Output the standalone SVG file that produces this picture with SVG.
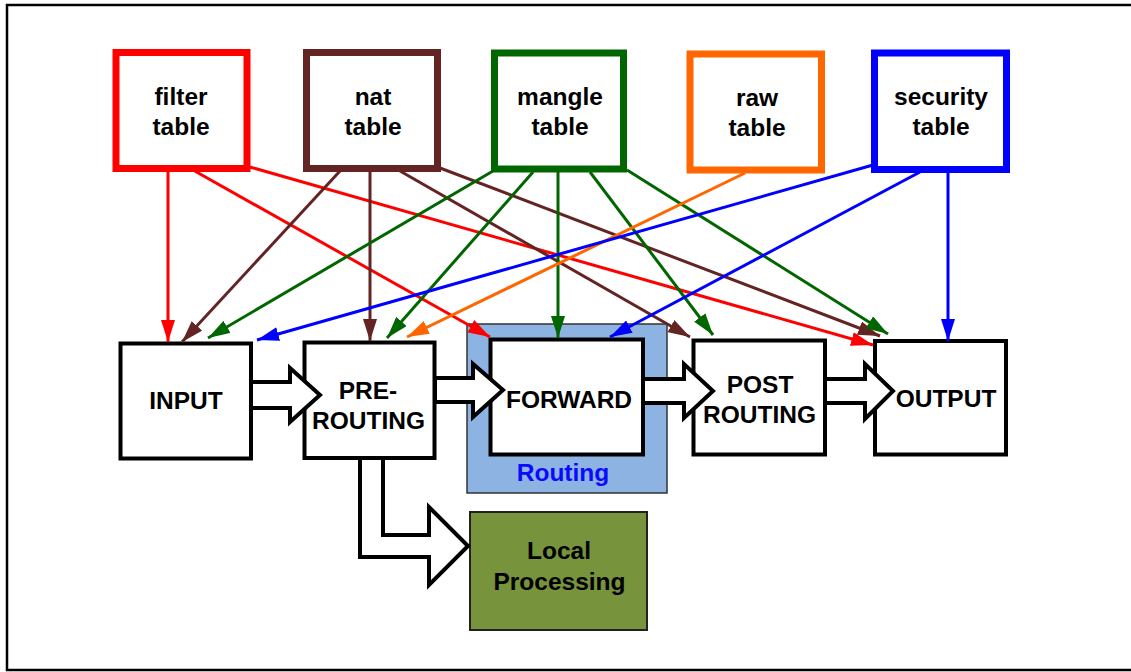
<svg xmlns="http://www.w3.org/2000/svg" width="1131" height="672" viewBox="0 0 1131 672">
<style>
.lbl{font-family:"Liberation Sans",Arial,Helvetica,sans-serif;font-weight:bold;font-size:24.5px;text-anchor:middle;fill:#000}
.tbl{fill:#fff;stroke-width:7}
.box{fill:#fff;stroke:#000;stroke-width:4}
.blk{fill:#fff;stroke:#000;stroke-width:4;stroke-linejoin:miter}
.c{fill:none;stroke-width:3}
</style>
<defs>
<marker id="ah-red" markerUnits="userSpaceOnUse" markerWidth="22" markerHeight="14" refX="22" refY="7" orient="auto"><path d="M0,0 L22,7 L0,14 z" fill="#ff0000"/></marker>
<marker id="ah-brown" markerUnits="userSpaceOnUse" markerWidth="22" markerHeight="14" refX="22" refY="7" orient="auto"><path d="M0,0 L22,7 L0,14 z" fill="#632423"/></marker>
<marker id="ah-green" markerUnits="userSpaceOnUse" markerWidth="22" markerHeight="14" refX="22" refY="7" orient="auto"><path d="M0,0 L22,7 L0,14 z" fill="#006600"/></marker>
<marker id="ah-orange" markerUnits="userSpaceOnUse" markerWidth="22" markerHeight="14" refX="22" refY="7" orient="auto"><path d="M0,0 L22,7 L0,14 z" fill="#ff6600"/></marker>
<marker id="ah-blue" markerUnits="userSpaceOnUse" markerWidth="22" markerHeight="14" refX="22" refY="7" orient="auto"><path d="M0,0 L22,7 L0,14 z" fill="#0000ff"/></marker>
</defs>
<rect x="0" y="0" width="1131" height="672" fill="#fff"/>
<rect x="7" y="5" width="1135" height="665" fill="none" stroke="#000" stroke-width="2.5"/>

<g id="filter-table">
<rect class="tbl" x="116" y="52.5" width="131" height="116" stroke="#ff0000"/>
<text class="lbl" x="181" y="105">filter</text>
<text class="lbl" x="181" y="135">table</text>
</g>
<g id="nat-table">
<rect class="tbl" x="306.5" y="52.5" width="131" height="116" stroke="#632423"/>
<text class="lbl" x="373" y="105">nat</text>
<text class="lbl" x="373" y="135">table</text>
</g>
<g id="mangle-table">
<rect class="tbl" x="494.5" y="53" width="129" height="116" stroke="#006600"/>
<text class="lbl" x="560" y="105">mangle</text>
<text class="lbl" x="560" y="135">table</text>
</g>
<g id="raw-table">
<rect class="tbl" x="690" y="54" width="131.5" height="116" stroke="#ff6600"/>
<text class="lbl" x="757" y="106">raw</text>
<text class="lbl" x="757" y="136">table</text>
</g>
<g id="security-table">
<rect class="tbl" x="874.5" y="53" width="132" height="116.5" stroke="#0000ff"/>
<text class="lbl" x="941" y="105">security</text>
<text class="lbl" x="941" y="135">table</text>
</g>

<g id="routing">
<rect x="467" y="324" width="200" height="169" fill="#8db3e2" stroke="#333" stroke-width="1.5"/>
<text class="lbl" x="563" y="481" fill="#0000ff" style="fill:#0a0aff">Routing</text>
</g>
<g id="input">
<rect class="box" x="120.5" y="343.5" width="130.5" height="115"/>
<text class="lbl" x="186" y="409">INPUT</text>
</g>
<g id="prerouting">
<rect class="box" x="304.5" y="342.5" width="130" height="115.5"/>
<text class="lbl" x="368" y="399">PRE-</text>
<text class="lbl" x="368.5" y="429">ROUTING</text>
</g>
<g id="forward">
<rect class="box" x="490.5" y="339.5" width="152.5" height="115"/>
<text class="lbl" x="569" y="408">FORWARD</text>
</g>
<g id="postrouting">
<rect class="box" x="693.5" y="340.5" width="131.5" height="114"/>
<text class="lbl" x="760" y="393">POST</text>
<text class="lbl" x="759.5" y="423">ROUTING</text>
</g>
<g id="output">
<rect class="box" x="875" y="341" width="131" height="113.5"/>
<text class="lbl" x="946" y="407">OUTPUT</text>
</g>
<g id="local-processing">
<rect x="470" y="512" width="177" height="118" fill="#77933c" stroke="#222" stroke-width="2"/>
<text class="lbl" x="559" y="559">Local</text>
<text class="lbl" x="559.5" y="590">Processing</text>
</g>

<g id="connectors">
<polygon class="blk" points="251,382 290,382 290,368 320,395 290,422 290,408 251,408"/>
<polygon class="blk" points="435,378 473,378 473,364 503,390 473,417 473,402 435,402"/>
<polygon class="blk" points="643,379 684,379 684,364 713,391 684,418 684,403 643,403"/>
<polygon class="blk" points="825,379 865,379 865,364 893,391 865,419 865,403 825,403"/>
<polygon class="blk" points="360,458 360,557 429,557 429,585 468,546 429,507 429,535 383,535 383,458"/>

<g stroke="#ff0000" class="c">
<path class="c" stroke="#ff0000" d="M168,172 L168,342" marker-end="url(#ah-red)"/>
<path class="c" stroke="#ff0000" d="M193,170 L490,337" marker-end="url(#ah-red)"/>
<path class="c" stroke="#ff0000" d="M250,167 L873,345" marker-end="url(#ah-red)"/>
</g>
<g>
<path class="c" stroke="#632423" d="M340,171 L182,342" marker-end="url(#ah-brown)"/>
<path class="c" stroke="#632423" d="M370,171 L370,341" marker-end="url(#ah-brown)"/>
<path class="c" stroke="#632423" d="M400,171 L690,337" marker-end="url(#ah-brown)"/>
<path class="c" stroke="#632423" d="M440,168 L880,336" marker-end="url(#ah-brown)"/>
</g>
<g>
<path class="c" stroke="#006600" d="M493,171 L208,338" marker-end="url(#ah-green)"/>
<path class="c" stroke="#006600" d="M533,172 L387,338" marker-end="url(#ah-green)"/>
<path class="c" stroke="#006600" d="M558,172 L558,338" marker-end="url(#ah-green)"/>
<path class="c" stroke="#006600" d="M590,172 L713,335" marker-end="url(#ah-green)"/>
<path class="c" stroke="#006600" d="M627,170 L888,334" marker-end="url(#ah-green)"/>
</g>
<g>
<path class="c" stroke="#ff6600" d="M745,173 L407,337" marker-end="url(#ah-orange)"/>
</g>
<g>
<path class="c" stroke="#0000ff" d="M873,165 L257,340" marker-end="url(#ah-blue)"/>
<path class="c" stroke="#0000ff" d="M920,172 L610,337" marker-end="url(#ah-blue)"/>
<path class="c" stroke="#0000ff" d="M948,172 L948,341" marker-end="url(#ah-blue)"/>
</g>
</g>
</svg>
